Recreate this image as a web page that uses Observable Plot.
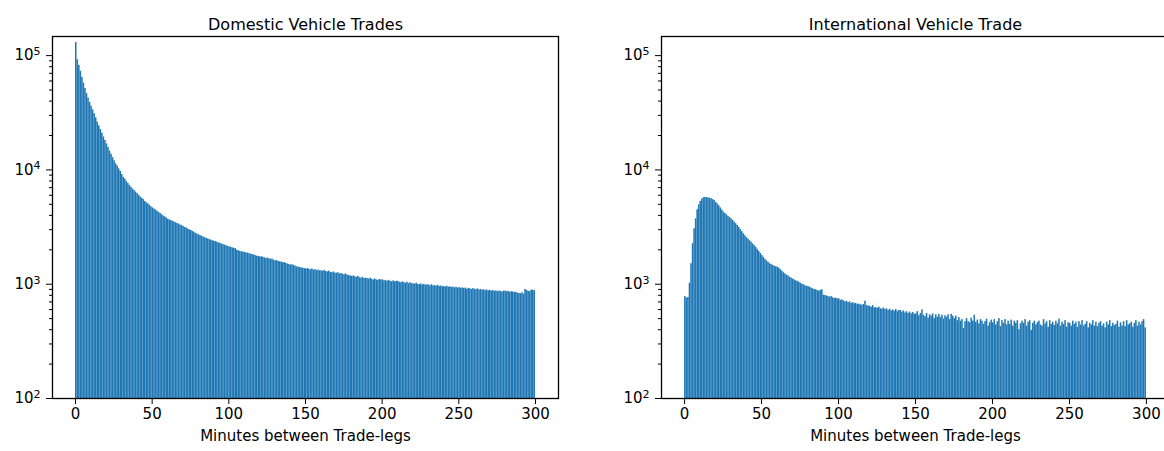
<!DOCTYPE html>
<html>
<head>
<meta charset="utf-8">
<script src="https://cdn.jsdelivr.net/npm/d3@7"></script>
<script src="https://cdn.jsdelivr.net/npm/@observablehq/plot@0.6"></script>
<style>
  html, body { margin: 0; padding: 0; background: white; }
  #wrap { display: flex; width: 1164px; height: 451px; overflow: hidden; }
  svg { flex: none; }
</style>
</head>
<body>
<div id="wrap"></div>
<script>
const titles = ["Domestic Vehicle Trades", "International Vehicle Trade"];
const xLabel = "Minutes between Trade-legs";
const binWidth = 1;
const minutes = d3.range(0, 300, binWidth);
const xTicks = [0, 50, 100, 150, 200, 250, 300];
const yMajor = [100, 1000, 10000, 100000];
const yMinor = [200,300,400,500,600,700,800,900,2000,3000,4000,5000,6000,7000,8000,9000,20000,30000,40000,50000,60000,70000,80000,90000];
const yDomain = [100, 147000];
const xDomain = [-15, 315];

const domestic = [
130000,92000,82000,73000,64500,57500,51500,46500,42500,39000,
36000,33500,31000,28500,26200,24300,22600,21000,19400,18100,
16900,15700,14600,13700,12800,12000,11300,10800,10200,9700,
9100,8600,8300,7900,7600,7300,7050,6800,6600,6400,
6200,6000,5800,5650,5500,5300,5150,5050,4900,4750,
4650,4550,4450,4350,4250,4150,4050,3950,3880,3800,
3700,3650,3600,3560,3500,3450,3400,3360,3300,3250,
3200,3140,3100,3040,2990,2950,2900,2850,2790,2740,
2700,2670,2630,2590,2550,2520,2490,2460,2430,2400,
2380,2360,2330,2300,2280,2250,2220,2200,2170,2140,
2120,2110,2080,2060,2050,1980,1960,1940,1920,1910,
1900,1880,1870,1850,1830,1820,1800,1780,1760,1750,
1730,1740,1720,1700,1680,1690,1670,1650,1660,1620,
1600,1610,1580,1570,1560,1540,1550,1520,1500,1490,
1470,1480,1460,1440,1420,1410,1400,1390,1380,1370,
1360,1370,1350,1340,1360,1330,1340,1320,1330,1310,
1310,1300,1320,1290,1280,1300,1270,1260,1280,1250,
1250,1260,1230,1240,1220,1210,1230,1200,1190,1180,
1170,1180,1160,1150,1170,1140,1130,1150,1120,1130,
1120,1110,1130,1100,1090,1110,1090,1080,1100,1090,
1090,1070,1080,1060,1080,1060,1050,1070,1050,1060,
1060,1040,1030,1050,1030,1020,1040,1010,1030,1010,
1010,1000,1020,995,990,1005,985,1000,980,990,
985,970,990,965,975,960,980,955,965,950,
955,945,960,940,950,935,945,930,940,925,
935,920,930,915,925,905,920,910,900,915,
905,895,910,890,900,885,895,880,890,875,
885,870,880,865,875,860,870,865,855,870,
870,860,865,850,860,855,845,850,835,830,
825,840,820,900,880,870,860,890,885,880
];

const international = [
780,755,765,1020,1510,2260,3050,3730,4480,4950,
5300,5550,5700,5750,5720,5700,5650,5600,5500,5400,
5200,5050,4850,4650,4450,4270,4150,4050,3930,3830,
3730,3620,3500,3380,3270,3150,3000,2880,2760,2650,
2550,2480,2400,2330,2250,2180,2100,2020,1940,1860,
1780,1720,1650,1600,1560,1510,1490,1460,1440,1420,
1410,1380,1340,1300,1260,1230,1200,1180,1150,1130,
1110,1090,1070,1060,1040,1020,1000,990,970,960,
955,940,925,910,900,893,880,870,885,893,
800,796,790,780,770,780,760,750,755,745,
745,720,730,715,700,710,690,700,680,690,
675,680,665,670,660,655,665,710,650,645,
640,630,650,620,625,615,630,610,605,620,
600,610,590,605,585,595,580,600,575,590,
589,570,585,560,575,555,570,550,565,545,
551,575,530,555,595,535,520,555,505,540,
525,550,500,540,515,545,510,535,495,530,
515,540,490,545,525,500,525,480,510,475,
490,410,470,500,470,460,505,475,535,465,
485,450,490,475,445,470,495,430,460,485,
460,490,440,470,500,425,480,455,490,440,
475,445,485,430,475,455,480,400,450,475,
455,490,430,465,480,395,455,475,440,460,
475,440,430,490,450,470,420,480,445,465,
435,475,450,495,430,465,445,480,420,460,
455,430,475,445,465,420,470,440,480,430,
445,470,415,455,440,480,430,465,425,455,
470,430,450,415,465,440,480,425,455,435,
445,475,420,460,430,470,425,480,440,450,
465,420,455,480,430,465,440,470,490,415
];

function panel(title, counts, width, marginLeft, marginRight) {
  const data = minutes.map((m, i) => ({x1: m, x2: m + binWidth, count: counts[i]}));
  const svg = Plot.plot({
    width, height: 451,
    marginLeft, marginRight, marginTop: 36, marginBottom: 53,
    x: {domain: xDomain},
    y: {type: "log", domain: yDomain},
    style: {fontFamily: "DejaVu Sans", fontSize: "15px", color: "black", background: "white"},
    marks: [
      Plot.rectY(data, {x1: "x1", x2: "x2", y1: yDomain[0], y2: "count", fill: "#1f77b4"}),
      Plot.axisY({ticks: yMinor, tickSize: 3, tickFormat: () => "", label: null}),
      Plot.axisY({ticks: yMajor, tickSize: 6, tickPadding: 6, label: null, fontSize: 15,
                  tickFormat: d => String(Math.round(Math.log10(d)))}),
      Plot.axisX({ticks: xTicks, tickSize: 6, tickPadding: 4, label: null, fontSize: 15}),
      Plot.frame({stroke: "black", strokeWidth: 1.3}),
      Plot.text([title], {frameAnchor: "top", dy: -18, fontSize: 16}),
      Plot.text([xLabel], {frameAnchor: "bottom", dy: 42, fontSize: 15})
    ]
  });
  svg.querySelectorAll('g[aria-label="y-axis tick label"] text').forEach(t => {
    const k = t.textContent;
    if (!k) return;
    t.textContent = "10";
    const ts = document.createElementNS("http://www.w3.org/2000/svg", "tspan");
    ts.setAttribute("dy", "-0.5em");
    ts.setAttribute("font-size", "11");
    ts.textContent = k;
    t.appendChild(ts);
  });
  return svg;
}

const wrap = document.getElementById("wrap");
wrap.appendChild(panel(titles[0], domestic, 582, 52, 24));
wrap.appendChild(panel(titles[1], international, 587, 79, 0));
</script>
</body>
</html>
